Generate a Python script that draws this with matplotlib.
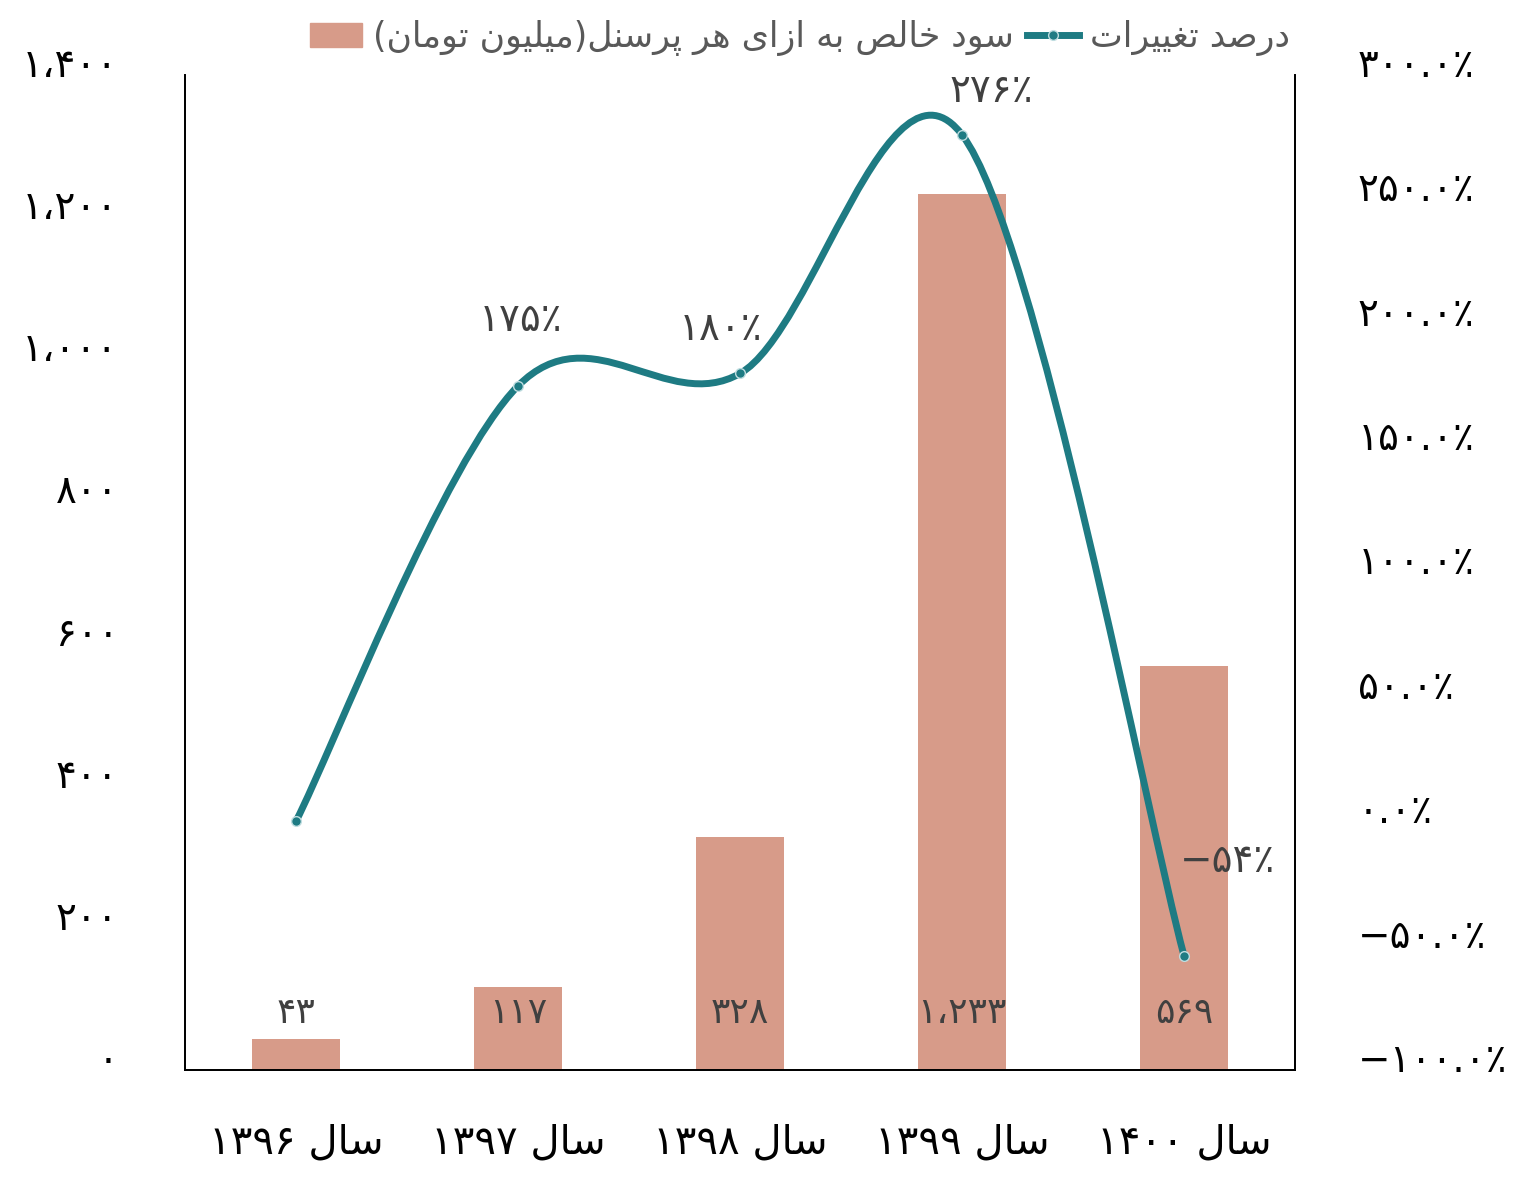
import matplotlib
matplotlib.use('Agg')
import matplotlib.pyplot as plt
from matplotlib.path import Path
from matplotlib.patches import PathPatch, Patch
from matplotlib.lines import Line2D
from matplotlib.transforms import ScaledTranslation

# data
years = [1396, 1397, 1398, 1399, 1400]
profit = [43, 117, 328, 1233, 569]          # million toman per employee
change = [0, 175, 180, 276, -54]            # percent change
change_shown = [False, True, True, True, True]
left_ticks = [0, 200, 400, 600, 800, 1000, 1200, 1400]
right_ticks = [-100, -50, 0, 50, 100, 150, 200, 250, 300]
bar_name = 'سود خالص به ازای هر پرسنل(میلیون تومان)'
line_name = 'درصد تغییرات'
year_word = 'سال'

BAR_COLOR = '#D79B89'
LINE_COLOR = '#1E7B83'

# --- minimal persian shaping (matplotlib has no RTL / joining support) ---
FORMS = {
    'ا': ('\uFE8D', '\uFE8E', None, None),
    'ب': ('\uFE8F', '\uFE90', '\uFE91', '\uFE92'),
    'پ': ('\uFB56', '\uFB57', '\uFB58', '\uFB59'),
    'ت': ('\uFE95', '\uFE96', '\uFE97', '\uFE98'),
    'خ': ('\uFEA5', '\uFEA6', '\uFEA7', '\uFEA8'),
    'د': ('\uFEA9', '\uFEAA', None, None),
    'ر': ('\uFEAD', '\uFEAE', None, None),
    'ز': ('\uFEAF', '\uFEB0', None, None),
    'س': ('\uFEB1', '\uFEB2', '\uFEB3', '\uFEB4'),
    'ص': ('\uFEB9', '\uFEBA', '\uFEBB', '\uFEBC'),
    'غ': ('\uFECD', '\uFECE', '\uFECF', '\uFED0'),
    'ل': ('\uFEDD', '\uFEDE', '\uFEDF', '\uFEE0'),
    'م': ('\uFEE1', '\uFEE2', '\uFEE3', '\uFEE4'),
    'ن': ('\uFEE5', '\uFEE6', '\uFEE7', '\uFEE8'),
    'ه': ('\uFEE9', '\uFEEA', '\uFEEB', '\uFEEC'),
    'و': ('\uFEED', '\uFEEE', None, None),
    'ی': ('\uFBFC', '\uFBFD', '\uFBFE', '\uFBFF'),
}
FA_DIGITS = '۰۱۲۳۴۵۶۷۸۹'


def joins_forward(c):
    return c in FORMS and FORMS[c][2] is not None


def shape(text):
    out = []
    i = 0
    while i < len(text):
        c = text[i]
        prev = text[i - 1] if i > 0 else ''
        if c not in FORMS:
            out.append(c)
            i += 1
            continue
        prev_j = joins_forward(prev)
        if c == 'ل' and i + 1 < len(text) and text[i + 1] == 'ا':
            out.append('\uFEFC' if prev_j else '\uFEFB')
            i += 2
            continue
        nxt = text[i + 1] if i + 1 < len(text) else ''
        next_j = nxt in FORMS and joins_forward(c)
        iso, fin, ini, med = FORMS[c]
        if prev_j and next_j:
            out.append(med)
        elif prev_j:
            out.append(fin)
        elif next_j:
            out.append(ini)
        else:
            out.append(iso)
        i += 1
    return out


def fa(text):
    # shape, then reverse for LTR drawing, keeping number runs in order
    chars = shape(text)[::-1]
    mirror = {'(': ')', ')': '('}
    chars = [mirror.get(c, c) for c in chars]
    res, run = [], []
    for c in chars:
        if c in FA_DIGITS or (run and c in '،.'):
            run.append(c)
        else:
            res.extend(run[::-1])
            run = []
            res.append(c)
    res.extend(run[::-1])
    return ''.join(res)


def fa_digits(s):
    return ''.join(FA_DIGITS[int(c)] if c.isdigit() else c for c in s)


def fa_num(v):
    return fa_digits(f'{v:,}').replace(',', '،')


def fa_pct(v, dec=1):
    s = fa_digits(f'{abs(v):.{dec}f}') + '٪'
    return ('−' + s) if v < 0 else s


plt.rcParams['font.family'] = ['DejaVu Sans']

fig = plt.figure(figsize=(15.18, 11.78), dpi=100)
ax = fig.add_axes([185 / 1518, 108 / 1178, 1110 / 1518, 995 / 1178])
ax2 = ax.twinx()

x = list(range(len(years)))
ax.bar(x, profit, width=0.4, color=BAR_COLOR, zorder=2)
ax.set_xlim(-0.5, 4.5)
ax.set_ylim(0, 1400)
ax.set_yticks(left_ticks)
ax.set_yticklabels([fa_num(v) for v in left_ticks], fontsize=28, color='black')
ax.set_xticks(x)
ax.set_xticklabels([fa_digits(str(y)) + ' ' + fa(year_word) for y in years], fontsize=29)
ax.tick_params(axis='y', length=0, pad=48)
ax.tick_params(axis='x', length=0, pad=38)

for i, v in enumerate(profit):
    ax.annotate(fa_num(v), (i, 0), xytext=(0, 57), textcoords='offset pixels',
                ha='center', va='center', fontsize=26, color='#404040')

# smoothed line like excel (catmull-rom as cubic bezier)
ax2.set_ylim(-100, 300)
ax2.set_yticks(right_ticks)
ax2.set_yticklabels([fa_pct(v) for v in right_ticks], fontsize=28, color='black')
ax2.tick_params(axis='y', length=0, pad=45)
n = len(change)
pts = list(zip(x, change))
verts = [pts[0]]
codes = [Path.MOVETO]
for i in range(n - 1):
    p0 = pts[max(i - 1, 0)]
    p1 = pts[i]
    p2 = pts[i + 1]
    p3 = pts[min(i + 2, n - 1)]
    c1 = (p1[0] + (p2[0] - p0[0]) / 6, p1[1] + (p2[1] - p0[1]) / 6)
    c2 = (p2[0] - (p3[0] - p1[0]) / 6, p2[1] - (p3[1] - p1[1]) / 6)
    verts += [c1, c2, p2]
    codes += [Path.CURVE4] * 3
ax2.add_patch(PathPatch(Path(verts, codes), fill=False, edgecolor=LINE_COLOR,
                        lw=5, capstyle='round', zorder=3))
ax2.plot(x, change, 'o', ms=7, mfc=LINE_COLOR, mec='#BFDDE0', mew=1, zorder=4)

offsets = [(0, 0), (3, 66), (-19, 44), (29, 44), (43, 95)]
for i, v in enumerate(change):
    if change_shown[i]:
        ax2.annotate(fa_pct(v, 0), (i, v), xytext=offsets[i], textcoords='offset pixels',
                     ha='center', va='center', fontsize=28, color='#404040')

# excel draws the tick numbers a little above their gridline position
lift = ScaledTranslation(0, 13 / 100, fig.dpi_scale_trans)
for lab in ax.get_yticklabels() + ax2.get_yticklabels():
    lab.set_transform(lab.get_transform() + lift)

for a in (ax, ax2):
    a.spines['top'].set_visible(False)
    for s in ('left', 'right', 'bottom'):
        a.spines[s].set_linewidth(1.3)
        a.spines[s].set_color('black')

handles = [Patch(color=BAR_COLOR),
           Line2D([], [], color=LINE_COLOR, lw=5, marker='o', ms=7,
                  mfc=LINE_COLOR, mec='#BFDDE0')]
fig.legend(handles, [fa(bar_name), fa(line_name)], loc='center',
           bbox_to_anchor=(800 / 1518, 1 - 38 / 1178), ncol=2, frameon=False,
           fontsize=25, labelcolor='#595959', handlelength=1.5, handletextpad=0.3,
           columnspacing=0.4)

fig.savefig('out.png', dpi=100)
